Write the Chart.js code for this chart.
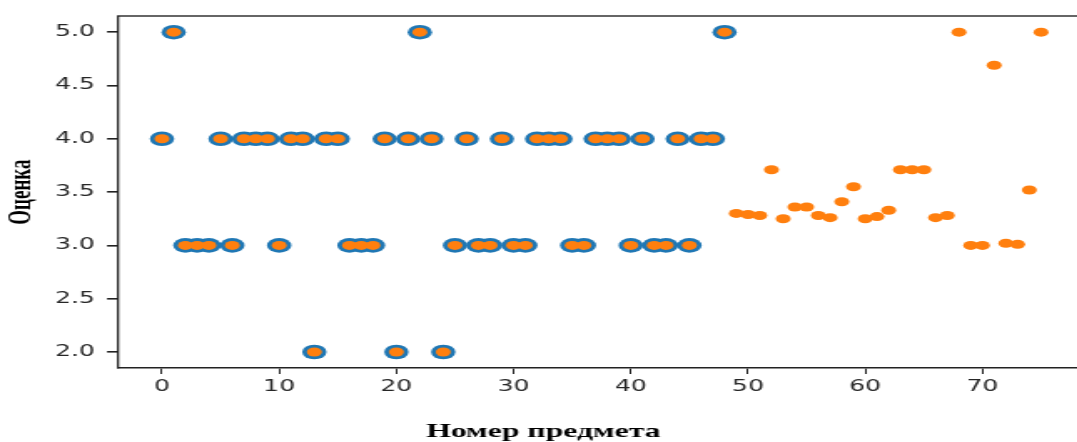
<!DOCTYPE html>
<html>
<head>
<meta charset="utf-8">
<script src="https://cdn.jsdelivr.net/npm/chart.js@4/dist/chart.umd.min.js"></script>
<style>
    html, body { margin: 0; padding: 0; background: #fff; overflow: hidden; }
    /* the picture is stretched sideways, so the canvas is too */
    #wrap { width: 657px; height: 442px; transform: scaleX(1.67); transform-origin: 0 0; }
</style>
</head>
<body>
<div id="wrap"><canvas id="chart" width="657" height="442"></canvas></div>
<script>
// real marks, subjects 0..48
var actual = [4, 5, 3, 3, 3, 4, 3, 4, 4, 4, 3, 4, 4, 2, 4, 4, 3, 3, 3, 4,
              2, 4, 5, 4, 2, 3, 4, 3, 3, 4, 3, 3, 4, 4, 4, 3, 3, 4, 4, 4,
              3, 4, 3, 3, 4, 3, 4, 4, 5];
// predicted marks, subjects 49..75
var predicted = [3.30, 3.29, 3.28, 3.71, 3.25, 3.36, 3.36, 3.28, 3.26, 3.41,
                 3.55, 3.25, 3.27, 3.33, 3.71, 3.71, 3.71, 3.26, 3.28, 5.0,
                 3.0, 3.0, 4.69, 3.02, 3.01, 3.52, 5.0];
var xTicks = [0, 10, 20, 30, 40, 50, 60, 70];
var yTicks = [2.0, 2.5, 3.0, 3.5, 4.0, 4.5, 5.0];

var blue_pts = actual.map(function(v, i) { return {x: i, y: v}; });
var orange_pts = actual.concat(predicted).map(function(v, i) { return {x: i, y: v}; });

var tick_font = {family: "DejaVu Sans", size: 15};
var label_font = {family: "Liberation Serif", size: 19, weight: "bold", lineHeight: 1};

var chart = new Chart(document.getElementById("chart"), {
    type: "scatter",
    data: {
        datasets: [
            {
                data: blue_pts,
                backgroundColor: "#1f77b4",
                borderWidth: 0,
                pointRadius: 7.3,
                pointHoverRadius: 7.3,
                order: 1
            },
            {
                data: orange_pts,
                backgroundColor: "#ff7f0e",
                borderWidth: 0,
                pointRadius: 4.5,
                pointHoverRadius: 4.5,
                order: 0
            }
        ]
    },
    options: {
        responsive: false,
        animation: false,
        events: [],
        layout: { padding: {left: 0, right: 6.3, top: 15, bottom: 0} },
        plugins: {
            legend: { display: false },
            tooltip: { enabled: false },
            title: {
                display: true,
                position: "bottom",
                text: "Номер предмета",
                color: "#000",
                font: label_font,
                padding: {top: 16, bottom: 0}
            }
        },
        scales: {
            x: {
                type: "linear",
                position: "bottom",
                min: -3.75,
                max: 78.75,
                afterBuildTicks: function(s) { s.ticks = xTicks.map(function(v) { return {value: v}; }); },
                afterFit: function(s) { s.height = 39; },
                ticks: { font: tick_font, color: "#262626", padding: 4, maxRotation: 0 },
                grid: { drawOnChartArea: false, drawTicks: true, tickLength: 6, color: "#222", lineWidth: 1 },
                border: { display: true, color: "#222", width: 1.6 }
            },
            x2: {
                type: "linear",
                position: "top",
                min: -3.75,
                max: 78.75,
                afterFit: function(s) { s.height = 0; },
                ticks: { display: false },
                grid: { drawOnChartArea: false, drawTicks: false },
                border: { display: true, color: "#666", width: 2 }
            },
            y: {
                min: 1.85,
                max: 5.15,
                afterBuildTicks: function(s) { s.ticks = yTicks.map(function(v) { return {value: v}; }); },
                afterFit: function(s) { s.width = 70.66; },
                ticks: {
                    font: tick_font,
                    color: "#262626",
                    padding: 7.2,
                    callback: function(v) { return v.toFixed(1); }
                },
                grid: { drawOnChartArea: false, drawTicks: true, tickLength: 6.6, color: "#222", lineWidth: 1.6 },
                border: { display: true, color: "#222", width: 1.3 },
                title: {
                    display: true,
                    text: "Оценка",
                    color: "#000",
                    font: label_font,
                    padding: {top: 4, bottom: 0}
                }
            }
        }
    }
});
</script>
</body>
</html>
